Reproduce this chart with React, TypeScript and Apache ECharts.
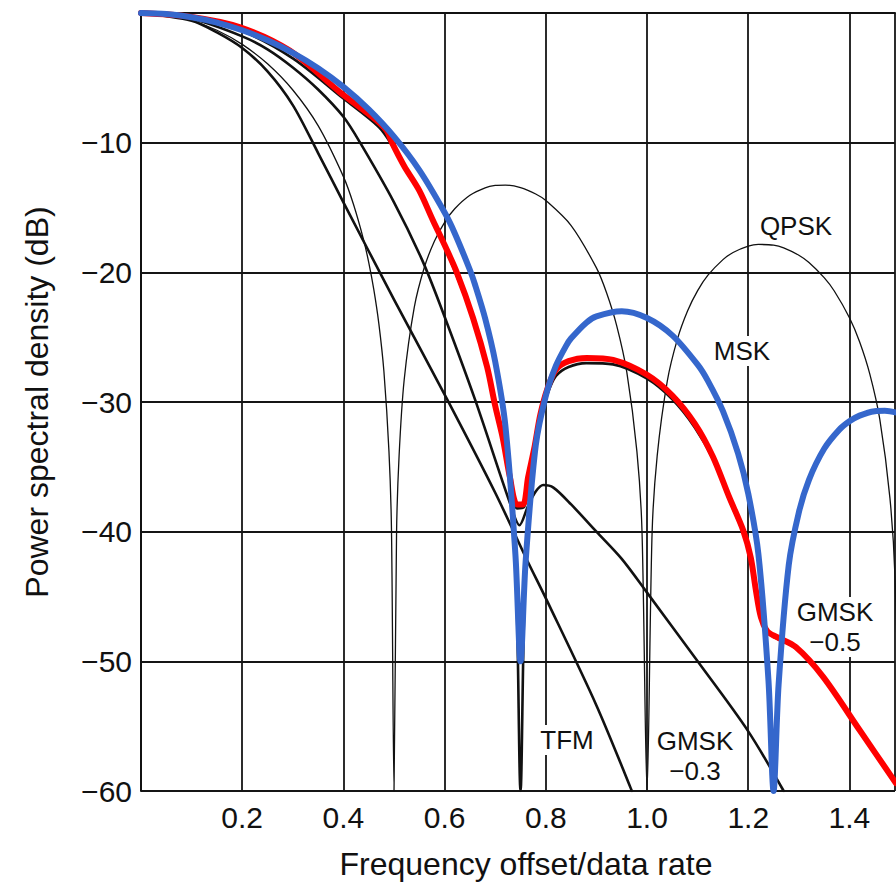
import React, { useEffect, useRef } from "react";
import * as echarts from "echarts";

// ---- Data (frequency offset / data rate, power spectral density in dB) ----
const QPSK_FREQ = [0, 0.05, 0.1, 0.15, 0.2, 0.25, 0.3, 0.35, 0.4, 0.42, 0.44, 0.45, 0.46, 0.47, 0.48, 0.49, 0.495, 0.5, 0.505, 0.51, 0.52, 0.54, 0.56, 0.58, 0.6, 0.62, 0.65, 0.68, 0.7, 0.72, 0.75, 0.78, 0.8, 0.85, 0.9, 0.92, 0.94, 0.96, 0.98, 0.99, 1.0, 1.01, 1.02, 1.04, 1.06, 1.08, 1.1, 1.12, 1.15, 1.17, 1.2, 1.22, 1.25, 1.27, 1.3, 1.32, 1.35, 1.37, 1.4, 1.42, 1.44, 1.46, 1.48, 1.49, 1.5];
const QPSK_DB = [0, -0.14, -0.58, -1.33, -2.42, -3.92, -5.94, -8.69, -12.62, -14.77, -17.51, -19.23, -21.31, -23.95, -27.63, -33.81, -39.9, -60, -40.1, -34.16, -28.32, -22.7, -19.61, -17.58, -16.14, -15.1, -14.06, -13.48, -13.3, -13.27, -13.46, -13.96, -14.46, -16.39, -19.66, -21.58, -24.11, -27.7, -33.83, -39.92, -60, -40.09, -34.17, -28.39, -25.15, -22.98, -21.41, -20.24, -19.02, -18.47, -17.98, -17.85, -17.9, -18.11, -18.68, -19.24, -20.41, -21.44, -23.5, -25.35, -27.81, -31.34, -37.41, -43.47, -60];

const MSK_FREQ = [0, 0.05, 0.1, 0.15, 0.2, 0.25, 0.3, 0.35, 0.4, 0.45, 0.5, 0.55, 0.6, 0.62, 0.65, 0.66, 0.68, 0.7, 0.72, 0.74, 0.75, 0.76, 0.78, 0.8, 0.82, 0.84, 0.85, 0.88, 0.9, 0.95, 1.0, 1.05, 1.1, 1.12, 1.15, 1.18, 1.2, 1.22, 1.24, 1.25, 1.26, 1.28, 1.3, 1.32, 1.35, 1.38, 1.4, 1.42, 1.45, 1.47, 1.5];
const MSK_DB = [0, -0.08, -0.33, -0.74, -1.33, -2.1, -3.07, -4.26, -5.7, -7.44, -9.54, -12.12, -15.39, -16.98, -19.82, -20.94, -23.54, -26.9, -31.81, -41.84, -60, -42.36, -33.37, -29.51, -27.2, -25.67, -25.09, -23.88, -23.4, -23.0, -23.52, -24.86, -27.12, -28.35, -30.71, -33.98, -37.07, -41.71, -51.5, -60, -51.79, -42.58, -38.51, -36.0, -33.61, -32.13, -31.49, -31.05, -30.71, -30.68, -30.88];
// highlighted (blue) MSK trace: same curve, first null drawn only down to -50 dB
const MSK_HL_DB = [0, -0.08, -0.33, -0.74, -1.33, -2.1, -3.07, -4.26, -5.7, -7.44, -9.54, -12.12, -15.39, -16.98, -19.82, -20.94, -23.54, -26.9, -31.81, -41.84, -50, -42.36, -33.37, -29.51, -27.2, -25.67, -25.09, -23.88, -23.4, -23.0, -23.52, -24.86, -27.12, -28.35, -30.71, -33.98, -37.07, -41.71, -51.5, -60, -51.79, -42.58, -38.51, -36.0, -33.61, -32.13, -31.49, -31.05, -30.71, -30.68, -30.88];

const TFM_FREQ = [0, 0.1, 0.15, 0.2, 0.25, 0.3, 0.35, 0.4, 0.5, 0.605, 0.7, 0.763, 0.802, 0.9, 0.97];
const TFM_DB = [0, -0.6, -1.5, -2.7, -4.5, -7.1, -10.8, -14.6, -22.1, -29.8, -37.0, -42.2, -45.3, -53.4, -60];

const GMSK03_FREQ = [0, 0.1, 0.2, 0.25, 0.3, 0.35, 0.4, 0.433, 0.5, 0.555, 0.591, 0.66, 0.73, 0.748, 0.765, 0.78, 0.795, 0.815, 0.85, 0.9, 0.95, 1.0, 1.1, 1.2, 1.27];
const GMSK03_DB = [0, -0.45, -1.8, -2.8, -4.2, -5.9, -8.0, -10.0, -14.6, -19.0, -22.5, -29.8, -37.9, -39.5, -38.0, -36.9, -36.4, -36.6, -37.9, -40.0, -42.1, -44.7, -50.0, -55.4, -60];

const GMSK05_FREQ = [0, 0.1, 0.2, 0.3, 0.4, 0.47, 0.496, 0.55, 0.6, 0.656, 0.684, 0.715, 0.729, 0.743, 0.757, 0.767, 0.789, 0.803, 0.82, 0.845, 0.88, 0.933, 1.0, 1.05, 1.095, 1.13, 1.162, 1.19, 1.205, 1.215, 1.225, 1.238, 1.255, 1.294, 1.348, 1.42, 1.5];
const GMSK05_DB = [0, -0.4, -1.4, -3.5, -6.6, -8.8, -10.2, -13.8, -18.0, -23.6, -27.4, -32.9, -35.9, -38.2, -38.1, -35.9, -31.3, -29.4, -28.0, -27.3, -27.0, -27.1, -28.2, -29.8, -32.0, -34.4, -37.5, -40.1, -42.2, -44.6, -46.7, -47.8, -48.2, -49.0, -51.3, -55.4, -60];

// highlighted (red) GMSK 0.5 trace
const GMSK05_HL_FREQ = [0, 0.1, 0.196, 0.294, 0.393, 0.44, 0.472, 0.486, 0.496, 0.52, 0.55, 0.577, 0.6, 0.624, 0.656, 0.684, 0.7, 0.715, 0.729, 0.743, 0.755, 0.765, 0.778, 0.789, 0.803, 0.82, 0.845, 0.881, 0.933, 1.0, 1.05, 1.095, 1.13, 1.162, 1.19, 1.205, 1.215, 1.225, 1.238, 1.255, 1.294, 1.348, 1.42, 1.492];
const GMSK05_HL_DB = [0, -0.3, -1.1, -2.9, -6.1, -7.5, -8.5, -9.1, -10.0, -11.8, -13.7, -16.0, -17.9, -20.0, -23.5, -27.3, -30.3, -32.8, -35.8, -37.9, -37.9, -35.8, -33.4, -31.0, -29.0, -27.5, -26.85, -26.6, -26.75, -27.9, -29.5, -31.7, -34.2, -37.3, -39.9, -42.0, -44.5, -46.6, -47.7, -48.1, -48.9, -51.2, -55.3, -59.4];

const X_TICKS = [0.2, 0.4, 0.6, 0.8, 1.0, 1.2, 1.4];
const Y_TICKS = [-10, -20, -30, -40, -50, -60];

const FONT = "'Liberation Sans', Arial, Helvetica, sans-serif";

const zip = (xs: number[], ys: number[]) => xs.map((x, i) => [x, ys[i]]);

function lineSeries(name: string, xs: number[], ys: number[], color: string, width: number, z: number) {
  return {
    name,
    type: "line",
    data: zip(xs, ys),
    showSymbol: false,
    symbol: "none",
    smooth: 0.3,
    clip: true,
    z,
    lineStyle: { color, width, cap: "round", join: "round" },
    emphasis: { disabled: true },
  };
}

function labelText(text: string, x: number, y: number) {
  return {
    type: "text",
    x,
    y,
    z: 1,
    style: {
      text,
      fill: "#111",
      font: `26px ${FONT}`,
      align: "center",
      verticalAlign: "middle",
      lineHeight: 30,
      backgroundColor: "#fff",
      padding: [0, 3],
    },
  };
}

export default function App() {
  const ref = useRef<HTMLDivElement>(null);

  useEffect(() => {
    if (!ref.current) return;
    const chart = echarts.init(ref.current, undefined, { renderer: "svg" });
    const gridLine = { show: true, lineStyle: { color: "#151515", width: 1.8 } };
    chart.setOption({
      animation: false,
      backgroundColor: "#fff",
      grid: { left: 141, top: 13, right: 1, bottom: 91, containLabel: false, outerBoundsMode: "none" },
      xAxis: {
        type: "value",
        min: 0,
        max: 1.49,
        interval: 0.2,
        name: "Frequency offset/data rate",
        nameLocation: "middle",
        nameGap: 57,
        nameTextStyle: { fontSize: 32, color: "#111", fontFamily: FONT, padding: [0, 0, 0, 16] },
        axisLine: { show: true, lineStyle: { color: "#111", width: 2 } },
        axisTick: { show: false },
        splitLine: gridLine,
        axisLabel: {
          fontSize: 30,
          color: "#111",
          fontFamily: FONT,
          margin: 11,
          showMaxLabel: false,
          formatter: (v: number) => {
            const t = X_TICKS.find((k) => Math.abs(k - v) < 1e-6);
            return t === undefined ? "" : t.toFixed(1);
          },
        },
      },
      yAxis: {
        type: "value",
        min: -60,
        max: 0,
        interval: 10,
        name: "Power spectral density (dB)",
        nameLocation: "middle",
        nameGap: 88,
        nameTextStyle: { fontSize: 32, color: "#111", fontFamily: FONT },
        axisLine: { show: true, lineStyle: { color: "#111", width: 2 } },
        axisTick: { show: false },
        splitLine: gridLine,
        axisLabel: {
          fontSize: 30,
          color: "#111",
          fontFamily: FONT,
          margin: 9,
          formatter: (v: number) => {
            const t = Y_TICKS.find((k) => Math.abs(k - v) < 1e-6);
            return t === undefined ? "" : "\u2212" + Math.abs(t);
          },
        },
      },
      series: [
        lineSeries("QPSK", QPSK_FREQ, QPSK_DB, "#111", 1.3, 2),
        lineSeries("TFM", TFM_FREQ, TFM_DB, "#111", 2.6, 3),
        lineSeries("GMSK 0.3", GMSK03_FREQ, GMSK03_DB, "#111", 2.6, 3),
        lineSeries("GMSK 0.5", GMSK05_FREQ, GMSK05_DB, "#111", 2.6, 3),
        lineSeries("MSK", MSK_FREQ, MSK_DB, "#111", 2.6, 3),
        lineSeries("GMSK 0.5 (highlight)", GMSK05_HL_FREQ, GMSK05_HL_DB, "#ff0000", 6, 5),
        lineSeries("MSK (highlight)", MSK_FREQ, MSK_HL_DB, "#3567cc", 6, 6),
      ],
      graphic: [
        labelText("QPSK", 796, 226),
        labelText("MSK", 742, 351),
        labelText("GMSK\n\u22120.5", 835, 627),
        labelText("TFM", 567, 740),
        labelText("GMSK\n\u22120.3", 695, 756),
      ],
    });
    return () => chart.dispose();
  }, []);

  return (
    <div
      ref={ref}
      style={{ position: "fixed", left: 0, top: 0, width: 896, height: 882, background: "#fff" }}
    />
  );
}
